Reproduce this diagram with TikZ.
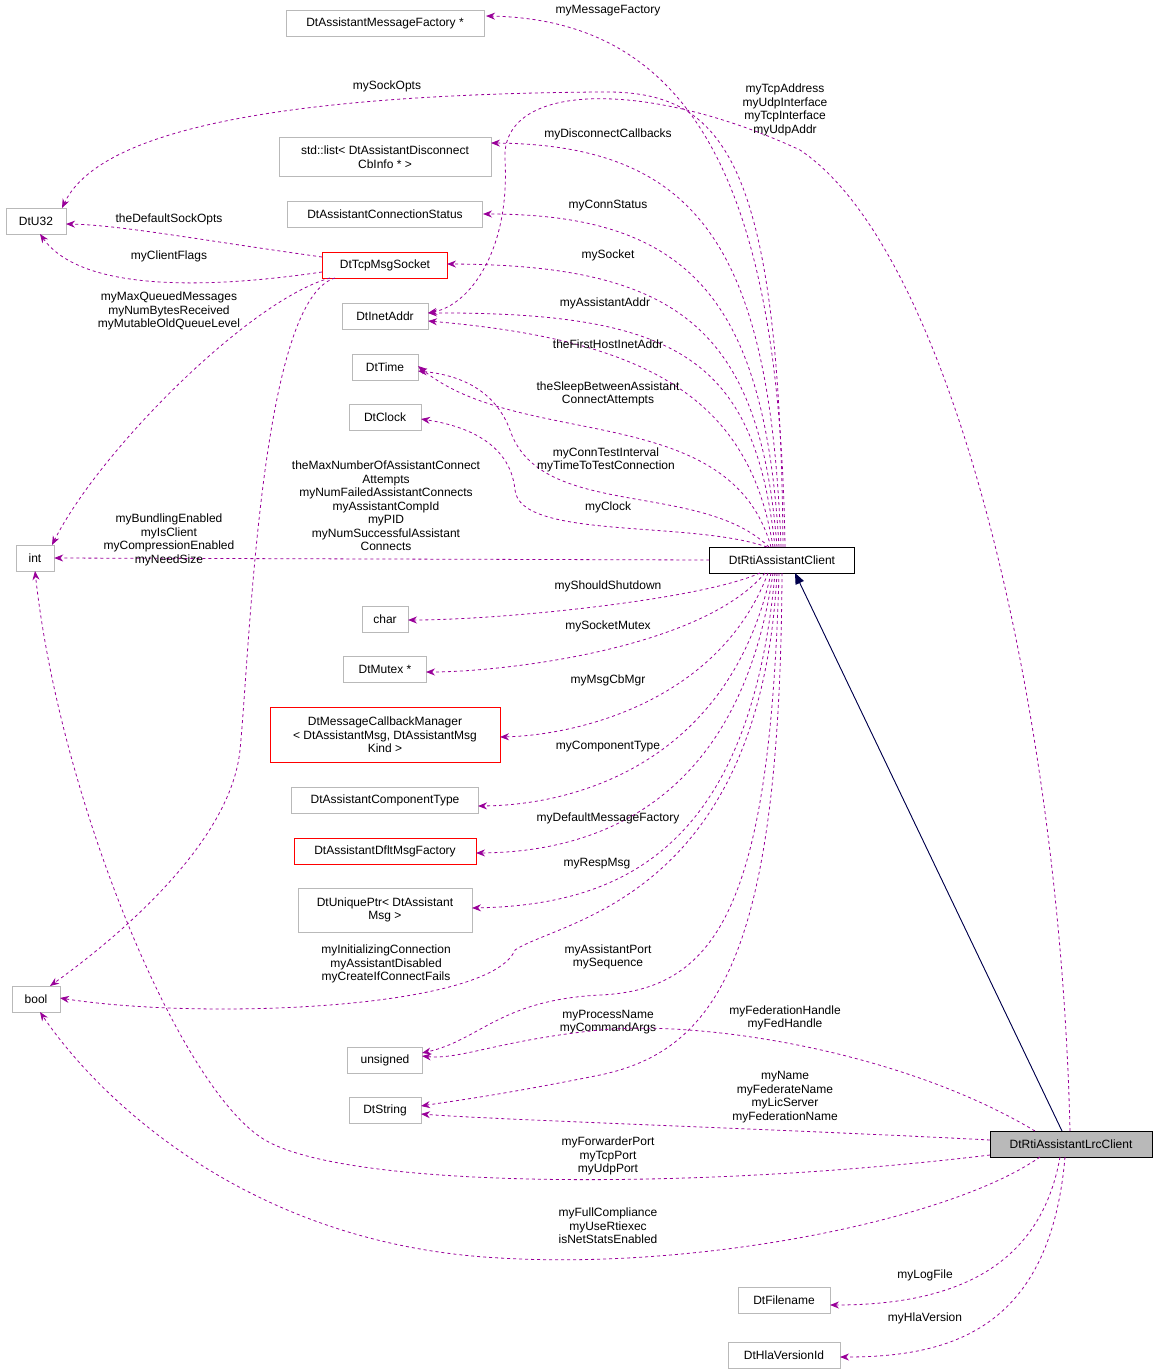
\documentclass[tikz,border=0pt]{standalone}
\usepackage{fontspec}
\setmainfont{Liberation Sans}
\usetikzlibrary{arrows.meta}
\begin{document}
\begin{tikzpicture}[x=1pt,y=-1pt,
  box/.style={draw=gray!55,fill=white,inner sep=0pt,minimum height=26pt,align=center,font=\fontsize{12}{13.5}\selectfont},
  rbox/.style={box,draw=red},
  e/.style={draw=violet!80!magenta,dashed,line width=0.8pt,-{Stealth[length=9pt,width=7pt]}},
  lb/.style={align=center,font=\fontsize{12}{13.5}\selectfont,inner sep=0pt}]
\useasboundingbox (0,0) rectangle (1157,1371);
\node[box,minimum width=198pt] (mf) at (385,23) {DtAssistantMessageFactory *};
\node[box,minimum width=212pt,minimum height=39pt] (dl) at (385,157) {std::list< DtAssistantDisconnect\\CbInfo * >};
\node[box,minimum width=195pt] (cs) at (385,214) {DtAssistantConnectionStatus};
\node[box,minimum width=60pt] (u32) at (36,221) {DtU32};
\node[rbox,minimum width=125pt] (sock) at (385,265) {DtTcpMsgSocket};
\node[box,minimum width=86pt] (ia) at (385,316) {DtInetAddr};
\node[box,minimum width=66pt] (tm) at (385,367) {DtTime};
\node[box,minimum width=72pt] (cl) at (385,417) {DtClock};
\node[box,minimum width=38pt] (int) at (35,558) {int};
\node[box,draw=black,minimum width=145pt] (C) at (782,560) {DtRtiAssistantClient};
\node[box,minimum width=46pt] (ch) at (385,619) {char};
\node[box,minimum width=83pt] (mx) at (385,669) {DtMutex *};
\node[rbox,minimum width=230pt,minimum height=55pt] (cb) at (385,735) {DtMessageCallbackManager\\< DtAssistantMsg, DtAssistantMsg\\Kind >};
\node[box,minimum width=187pt] (ct) at (385,800) {DtAssistantComponentType};
\node[rbox,minimum width=182pt] (df) at (385,851) {DtAssistantDfltMsgFactory};
\node[box,minimum width=174pt,minimum height=44pt] (up) at (385,910) {DtUniquePtr< DtAssistant\\Msg >};
\node[box,minimum width=48pt] (bl) at (36,999) {bool};
\node[box,minimum width=75pt] (un) at (385,1060) {unsigned};
\node[box,minimum width=72pt] (st) at (385,1110) {DtString};
\node[box,draw=black,fill=gray!55,minimum width=162pt] (L) at (1071,1144) {DtRtiAssistantLrcClient};
\node[box,minimum width=92pt] (fn) at (784,1300) {DtFilename};
\node[box,minimum width=112pt] (hv) at (784,1355) {DtHlaVersionId};

\draw[-{Triangle[length=11pt,width=9pt]},draw=blue!30!black,fill=blue!30!black,line width=0.9pt] (1062,1131) -- (795,573);

\draw[e] (785,547) .. controls (780,200) and (700,20) .. (486,16);
\node[lb] at (608,11) {myMessageFactory};
\draw[e] (783,547) .. controls (780,150) and (720,90) .. (600,92) .. controls (200,95) and (90,150) .. (62,208);
\node[lb] at (387,86) {mySockOpts};
\draw[e] (781,547) .. controls (770,250) and (700,145) .. (491,143);
\node[lb] at (608,134) {myDisconnectCallbacks};
\draw[e] (779,547) .. controls (765,300) and (690,214) .. (483,214);
\node[lb] at (608,206) {myConnStatus};
\draw[e] (777,547) .. controls (760,330) and (680,265) .. (447,264);
\node[lb] at (608,255) {mySocket};
\draw[e] (775,547) .. controls (755,360) and (680,312) .. (428,313);
\node[lb] at (605,303) {myAssistantAddr};
\draw[e] (773,547) .. controls (750,400) and (650,340) .. (428,321);
\node[lb] at (608,344) {theFirstHostInetAddr};
\draw[e] (771,547) .. controls (730,400) and (520,450) .. (418,366);
\node[lb] at (608,394) {theSleepBetweenAssistant\\ConnectAttempts};
\draw[e] (769,547) .. controls (700,480) and (540,520) .. (510,430) .. controls (495,390) and (460,375) .. (418,371);
\node[lb] at (606,460) {myConnTestInterval\\myTimeToTestConnection};
\draw[e] (767,547) .. controls (690,520) and (520,540) .. (515,490) .. controls (510,440) and (460,425) .. (421,419);
\node[lb] at (608,507) {myClock};
\draw[e] (C.west) -- (int.east);
\node[lb] at (386,506) {theMaxNumberOfAssistantConnect\\Attempts\\myNumFailedAssistantConnects\\myAssistantCompId\\myPID\\myNumSuccessfulAssistant\\Connects};
\draw[e] (760,573) .. controls (700,600) and (500,620) .. (408,620);
\node[lb] at (608,586) {myShouldShutdown};
\draw[e] (765,573) .. controls (700,650) and (500,672) .. (426,672);
\node[lb] at (608,626) {mySocketMutex};
\draw[e] (768,573) .. controls (720,700) and (580,735) .. (500,737);
\node[lb] at (608,680) {myMsgCbMgr};
\draw[e] (771,573) .. controls (730,760) and (580,805) .. (478,806);
\node[lb] at (608,747) {myComponentType};
\draw[e] (773,573) .. controls (740,800) and (600,852) .. (476,853);
\node[lb] at (608,818) {myDefaultMessageFactory};
\draw[e] (775,573) .. controls (750,850) and (620,905) .. (472,908);
\node[lb] at (597,864) {myRespMsg};
\draw[e] (777,573) .. controls (760,900) and (560,920) .. (515,950) .. controls (490,1010) and (200,1020) .. (60,998);
\node[lb] at (386,964) {myInitializingConnection\\myAssistantDisabled\\myCreateIfConnectFails};
\draw[e] (779,573) .. controls (770,900) and (720,990) .. (600,995) .. controls (500,1000) and (480,1040) .. (422,1053);
\node[lb] at (608,957) {myAssistantPort\\mySequence};
\draw[e] (782,573) .. controls (780,950) and (720,1050) .. (600,1075) .. controls (500,1095) and (460,1100) .. (421,1106);
\node[lb] at (608,1022) {myProcessName\\myCommandArgs};

\draw[e] (1070,1131) .. controls (1060,700) and (950,250) .. (800,150) .. controls (650,80) and (500,80) .. (505,160) .. controls (510,250) and (470,305) .. (428,313);
\node[lb] at (785,110) {myTcpAddress\\myUdpInterface\\myTcpInterface\\myUdpAddr};
\draw[e] (1035,1131) .. controls (900,1050) and (700,1020) .. (600,1030) .. controls (500,1040) and (460,1060) .. (422,1056);
\node[lb] at (785,1018) {myFederationHandle\\myFedHandle};
\draw[e] (990,1140) .. controls (800,1130) and (500,1120) .. (421,1114);
\node[lb] at (785,1097) {myName\\myFederateName\\myLicServer\\myFederationName};
\draw[e] (990,1155) .. controls (700,1190) and (350,1190) .. (265,1140) .. controls (180,1090) and (60,800) .. (35,571);
\node[lb] at (608,1156) {myForwarderPort\\myTcpPort\\myUdpPort};
\draw[e] (1040,1157) .. controls (950,1220) and (700,1270) .. (500,1258) .. controls (250,1245) and (100,1100) .. (40,1012);
\node[lb] at (608,1226) {myFullCompliance\\myUseRtiexec\\isNetStatsEnabled};
\draw[e] (1060,1157) .. controls (1040,1270) and (950,1305) .. (830,1305);
\node[lb] at (925,1275) {myLogFile};
\draw[e] (1065,1157) .. controls (1050,1330) and (950,1357) .. (840,1357);
\node[lb] at (925,1318) {myHlaVersion};

\draw[e] (322,257) .. controls (200,240) and (120,225) .. (66,224);
\node[lb] at (169,219) {theDefaultSockOpts};
\draw[e] (322,272) .. controls (200,290) and (80,290) .. (40,234);
\node[lb] at (169,256) {myClientFlags};
\draw[e] (330,278) .. controls (250,300) and (100,450) .. (52,545);
\node[lb] at (169,311) {myMaxQueuedMessages\\myNumBytesReceived\\myMutableOldQueueLevel};
\draw[e] (335,278) .. controls (260,300) and (250,650) .. (240,750) .. controls (230,850) and (100,950) .. (50,986);
\node[lb] at (169,540) {myBundlingEnabled\\myIsClient\\myCompressionEnabled\\myNeedSize};
\end{tikzpicture}
\end{document}
